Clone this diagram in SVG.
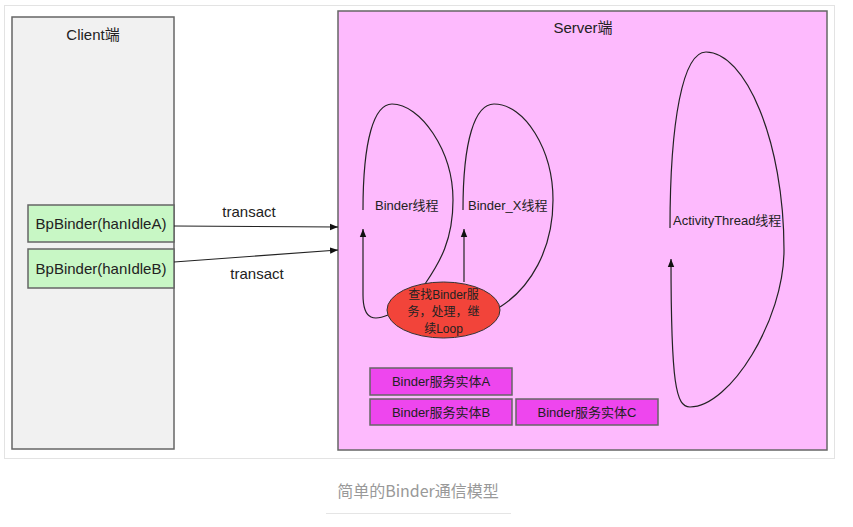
<svg xmlns="http://www.w3.org/2000/svg" width="853" height="527" viewBox="0 0 853 527">
<style>
text{font-family:"Liberation Sans","Noto Sans CJK SC",sans-serif;fill:#222}
.box{stroke:#666;stroke-width:1.5}
.ln{fill:none;stroke:#222;stroke-width:1.2}
</style>
<defs>
<marker id="ah" viewBox="0 0 10 10" refX="10" refY="5" markerWidth="8" markerHeight="8" markerUnits="userSpaceOnUse" orient="auto">
<path d="M0,1 L10,5 L0,9 Z" fill="#111"/>
</marker>
</defs>
<rect x="0" y="0" width="853" height="527" fill="#fff"/>
<rect x="4.5" y="5.5" width="830" height="453" fill="#fff" stroke="#e3e3e3"/>
<g id="client">
<rect class="box" x="12" y="17" width="162" height="432" fill="#f1f1f1"/>
<text x="93" y="40" font-size="15" text-anchor="middle">Client端</text>
</g>
<g id="server">
<rect class="box" x="338" y="11" width="489" height="439" fill="#fdbafd"/>
<text x="583" y="33" font-size="15" text-anchor="middle">Server端</text>
</g>
<g id="bpA">
<rect class="box" x="28" y="205" width="146" height="37" fill="#c8f7c5"/>
<text x="101" y="229" font-size="15" text-anchor="middle">BpBinder(hanIdleA)</text>
</g>
<g id="bpB">
<rect class="box" x="28" y="249" width="146" height="39" fill="#c8f7c5"/>
<text x="101" y="274" font-size="15" text-anchor="middle">BpBinder(hanIdleB)</text>
</g>
<g id="connectors">
<line class="ln" x1="174" y1="226" x2="338" y2="227" marker-end="url(#ah)"/>
<text x="249" y="217" font-size="15" text-anchor="middle">transact</text>
<line class="ln" x1="174" y1="262" x2="338" y2="250" marker-end="url(#ah)"/>
<text x="257" y="279" font-size="15" text-anchor="middle">transact</text>
<path class="ln" d="M363,210 C363,140 374,104 392,104 C420,104 453,150 453,200 C453,240 440,262 425,284"/>
<path class="ln" d="M388,315 C376,320 363,322 363,295 L363,229" marker-end="url(#ah)"/>
<path class="ln" d="M463,210 C463,140 475,104 494,104 C525,104 553,150 553,200 C553,250 530,288 500,307"/>
<line class="ln" x1="464" y1="282" x2="464" y2="229" marker-end="url(#ah)"/>
<path class="ln" d="M670,228 C670,120 683,52 706,52 C745,52 784,140 784,250 C784,320 730,407 690,407 C676,407 671,385 671,259" marker-end="url(#ah)"/>
</g>
<g id="binderThread">
<text x="375" y="210" font-size="13">Binder线程</text>
</g>
<g id="binderXThread">
<text x="468" y="210" font-size="13">Binder_X线程</text>
</g>
<g id="activityThread">
<text x="673" y="225" font-size="13">ActivityThread线程</text>
</g>
<g id="loopNode">
<ellipse cx="443.5" cy="310" rx="56.5" ry="28" fill="#f2443a" stroke="#333" stroke-width="1"/>
<text x="443.5" y="299" font-size="12" text-anchor="middle">查找Binder服</text>
<text x="443.5" y="316" font-size="12" text-anchor="middle">务，处理，继</text>
<text x="443.5" y="333" font-size="12" text-anchor="middle">续Loop</text>
</g>
<g id="entityA">
<rect class="box" x="370" y="368" width="142" height="27" fill="#ee46ee"/>
<text x="441" y="386" font-size="13" text-anchor="middle">Binder服务实体A</text>
</g>
<g id="entityB">
<rect class="box" x="370" y="399" width="142" height="26" fill="#ee46ee"/>
<text x="441" y="417" font-size="13" text-anchor="middle">Binder服务实体B</text>
</g>
<g id="entityC">
<rect class="box" x="516" y="399" width="142" height="26" fill="#ee46ee"/>
<text x="587" y="417" font-size="13" text-anchor="middle">Binder服务实体C</text>
</g>
<g id="caption">
<text x="418" y="497" font-size="16" text-anchor="middle" style="fill:#999;font-family:'Noto Sans CJK SC','Noto Sans',sans-serif">简单的Binder通信模型</text>
<line x1="326" y1="513.5" x2="511" y2="513.5" stroke="#e5e5e5" stroke-width="1"/>
</g>
</svg>
